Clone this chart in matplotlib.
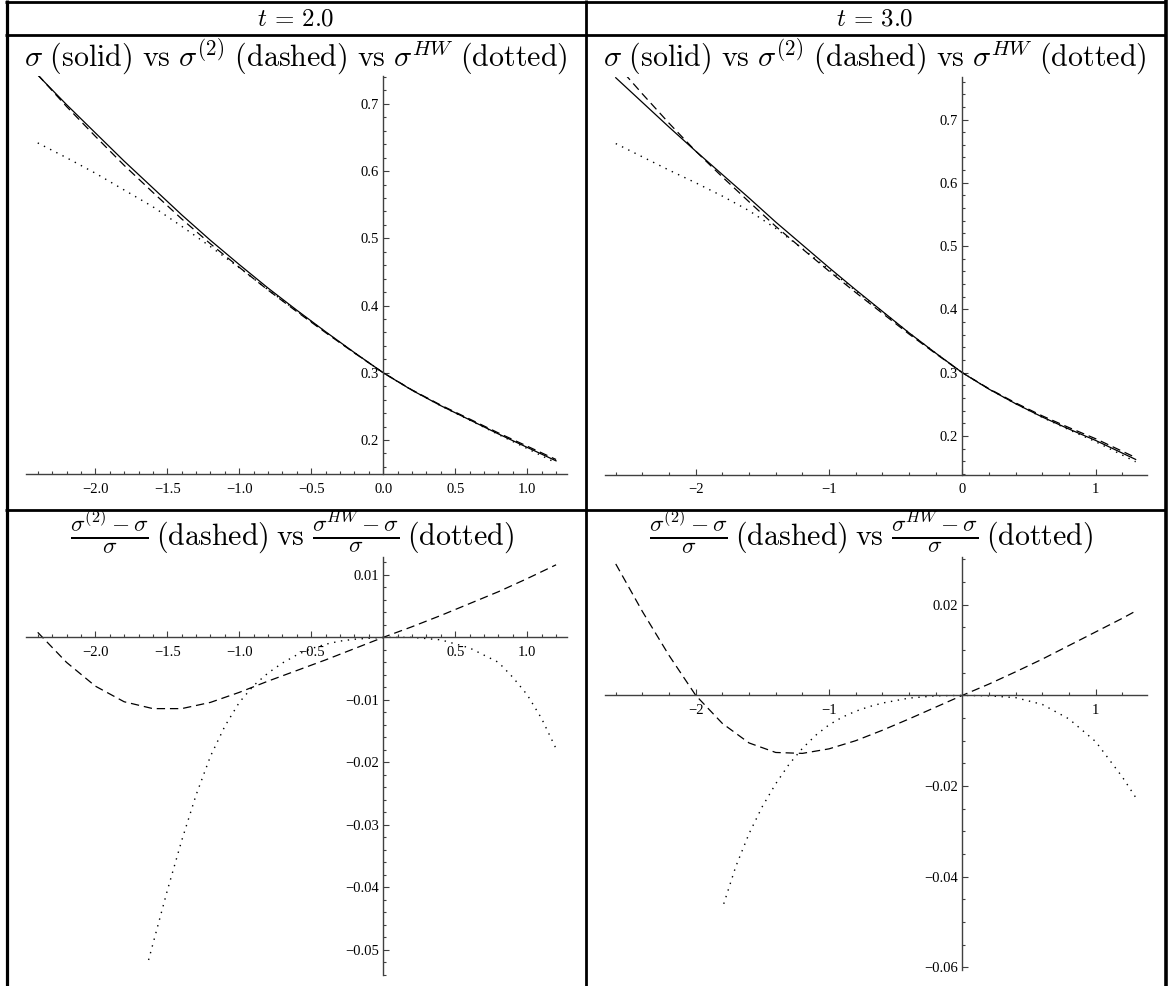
"""
Recreates the 2x2 Mathematica-style grid comparing sigma, sigma^(2) and sigma^HW
for t = 2.0 and t = 3.0 (values read off the reference picture).
"""
import matplotlib
matplotlib.use("Agg")
import matplotlib.pyplot as plt
from matplotlib.lines import Line2D
from matplotlib.offsetbox import AnnotationBbox, HPacker, TextArea
from matplotlib.ticker import FixedLocator, MultipleLocator, NullFormatter

plt.rcParams["mathtext.fontset"] = "cm"
plt.rcParams["lines.scale_dashes"] = False

W, H = 1168, 986

# ---------------- data, t = 2.0 ----------------
X_T2 = [-2.4, -2.2, -2.0, -1.8, -1.6, -1.4, -1.2, -1.0, -0.8, -0.6,
        -0.4, -0.2, 0.0, 0.2, 0.4, 0.6, 0.8, 1.0, 1.2]
SIGMA_T2 = [0.743, 0.699, 0.657, 0.615, 0.575, 0.535, 0.497, 0.461, 0.426, 0.393,
            0.361, 0.330, 0.300, 0.274, 0.251, 0.230, 0.209, 0.189, 0.169]
SIGMA2_T2 = [0.7436, 0.6962, 0.6519, 0.6087, 0.5684, 0.5289, 0.4918, 0.4569, 0.4230, 0.3909,
             0.3597, 0.3294, 0.300, 0.2745, 0.2519, 0.2312, 0.2105, 0.1908, 0.1710]
SIGMAHW_T2 = [0.642, 0.620, 0.597, 0.572, 0.547, 0.518, 0.4877, 0.4564, 0.4235, 0.3919,
              0.3606, 0.3299, 0.300, 0.274, 0.2509, 0.2296, 0.2082, 0.1873, 0.1660]
REL2_T2 = [0.0008, -0.0040, -0.0078, -0.0103, -0.0114, -0.0114, -0.0104, -0.0088, -0.0070, -0.0053,
           -0.0036, -0.0018, 0.0, 0.0017, 0.0035, 0.0054, 0.0073, 0.0094, 0.0116]
X_RELHW_T2 = [-1.63, -1.5, -1.4, -1.3, -1.2, -1.1, -1.0, -0.9, -0.8, -0.7, -0.6, -0.5,
              -0.4, -0.3, -0.2, 0.0, 0.2, 0.4, 0.6, 0.8, 0.9, 1.0, 1.1, 1.2]
RELHW_T2 = [-0.0516, -0.0405, -0.0325, -0.0252, -0.0190, -0.0142, -0.0104, -0.0077, -0.0057,
            -0.0041, -0.0028, -0.0018, -0.0011, -0.0006, -0.0003, 0.0, 0.0, -0.0004, -0.0017,
            -0.0040, -0.0064, -0.0092, -0.0130, -0.0178]

# ---------------- data, t = 3.0 ----------------
X_T3 = [-2.6, -2.4, -2.2, -2.0, -1.8, -1.6, -1.4, -1.2, -1.0, -0.8, -0.6,
        -0.4, -0.2, 0.0, 0.2, 0.4, 0.6, 0.8, 1.0, 1.2, 1.3]
SIGMA_T3 = [0.766, 0.727, 0.688, 0.650, 0.613, 0.576, 0.538, 0.502, 0.466, 0.431, 0.397,
            0.363, 0.331, 0.300, 0.274, 0.251, 0.230, 0.211, 0.193, 0.173, 0.163]
SIGMA2_T3 = [0.7882, 0.7404, 0.6941, 0.650, 0.6092, 0.5700, 0.5312, 0.4956, 0.4605, 0.4267, 0.3939,
             0.3611, 0.3301, 0.300, 0.2747, 0.2523, 0.2318, 0.2133, 0.1957, 0.1759, 0.1660]
SIGMAHW_T3 = [0.662, 0.641, 0.620, 0.600, 0.579, 0.556, 0.528, 0.4961, 0.463, 0.4295, 0.3963,
              0.3629, 0.3310, 0.300, 0.274, 0.2509, 0.2295, 0.2099, 0.1910, 0.1699, 0.1593]
REL2_T3 = [0.0290, 0.0185, 0.0088, 0.0, -0.0062, -0.0105, -0.0126, -0.0128, -0.0118, -0.0100, -0.0077,
           -0.0052, -0.0026, 0.0, 0.0025, 0.0052, 0.0080, 0.0110, 0.0140, 0.0170, 0.0186]
X_RELHW_T3 = [-1.79, -1.7, -1.6, -1.5, -1.4, -1.3, -1.2, -1.1, -1.0, -0.9, -0.8, -0.7,
              -0.6, -0.4, -0.2, 0.0, 0.2, 0.4, 0.6, 0.8, 1.0, 1.2, 1.3]
RELHW_T3 = [-0.0460, -0.0378, -0.0305, -0.0245, -0.0195, -0.0152, -0.0117, -0.0088, -0.0065,
            -0.0048, -0.0035, -0.0025, -0.0017, -0.0006, -0.0001, 0.0, -0.0001, -0.0005,
            -0.0020, -0.0052, -0.0102, -0.0180, -0.0225]

# ---------------- texts and ticks ----------------
HEADERS = [r"$t\,=\,2.0$", r"$t\,=\,3.0$"]
TOP_TITLE = (r"$\sigma\ \mathrm{(solid)\ vs}\ \sigma^{(2)}\ \mathrm{(dashed)\ vs}\ "
             r"\sigma^{HW}\ \mathrm{(dotted)}$")
# bottom title pieces: (text, is_fraction)
BOTTOM_PARTS = [(r"$\frac{\sigma^{(2)}-\sigma}{\sigma}$", True),
                (r"$\mathrm{(dashed)}$", False),
                (r"$\mathrm{vs}$", False),
                (r"$\frac{\sigma^{HW}-\sigma}{\sigma}$", True),
                (r"$\mathrm{(dotted)}$", False)]

X_TICKS_T2 = [-2.0, -1.5, -1.0, -0.5, 0.0, 0.5, 1.0]
X_LABELS_T2 = ["\u22122.0", "\u22121.5", "\u22121.0", "\u22120.5", "0.0", "0.5", "1.0"]
X_TICKS_T3 = [-2, -1, 0, 1]
X_LABELS_T3 = ["\u22122", "\u22121", "0", "1"]
Y_TICKS_TOP = [0.2, 0.3, 0.4, 0.5, 0.6, 0.7]
Y_LABELS_TOP = ["0.2", "0.3", "0.4", "0.5", "0.6", "0.7"]
X_TICKS_REL_T2 = [-2.0, -1.5, -1.0, -0.5, 0.5, 1.0]
X_LABELS_REL_T2 = ["\u22122.0", "\u22121.5", "\u22121.0", "\u22120.5", "0.5", "1.0"]
Y_TICKS_REL_T2 = [0.01, -0.01, -0.02, -0.03, -0.04, -0.05]
Y_LABELS_REL_T2 = ["0.01", "\u22120.01", "\u22120.02", "\u22120.03", "\u22120.04", "\u22120.05"]
X_TICKS_REL_T3 = [-2, -1, 1]
X_LABELS_REL_T3 = ["\u22122", "\u22121", "1"]
Y_TICKS_REL_T3 = [0.02, -0.02, -0.04, -0.06]
Y_LABELS_REL_T3 = ["0.02", "\u22120.02", "\u22120.04", "\u22120.06"]

TICK_FONT = dict(family="Liberation Serif", size=10.5)
AX_COLOR = "0.25"
TITLE_SIZE = 21.6
FRAC_SIZE = 24


def px_axes(fig, left, right, top, bottom):
    return fig.add_axes([left / W, 1 - bottom / H, (right - left) / W, (bottom - top) / H])


def style(ax, xlim, ylim, xt, xl, xminor, yt, yl, yminor, x_axis_at_zero):
    ax.set_xlim(*xlim)
    ax.set_ylim(*ylim)
    ax.patch.set_visible(False)
    for s in ("top", "right"):
        ax.spines[s].set_visible(False)
    ax.spines["left"].set_position(("data", 0))
    if x_axis_at_zero:
        ax.spines["bottom"].set_position(("data", 0))
    for s in ("left", "bottom"):
        ax.spines[s].set_color(AX_COLOR)
        ax.spines[s].set_linewidth(1.0)
    ax.xaxis.set_major_locator(FixedLocator(xt))
    ax.set_xticklabels(xl, fontdict=TICK_FONT)
    ax.yaxis.set_major_locator(FixedLocator(yt))
    ax.set_yticklabels(yl, fontdict=TICK_FONT)
    ax.xaxis.set_minor_locator(MultipleLocator(xminor))
    ax.yaxis.set_minor_locator(MultipleLocator(yminor))
    ax.xaxis.set_minor_formatter(NullFormatter())
    ax.yaxis.set_minor_formatter(NullFormatter())
    ax.tick_params(which="both", direction="in", color=AX_COLOR, width=0.8)
    ax.tick_params(which="major", length=4.3)
    ax.tick_params(which="minor", length=2.4)
    ax.tick_params(axis="x", pad=6)
    ax.tick_params(axis="y", pad=3)


def draw_sigma(ax, x, s, s2, shw):
    ax.plot(x, s, color="black", lw=0.9)
    ax.plot(x, s2, color="black", lw=0.9, linestyle=(0, (6, 3.5)))
    ax.plot(x, shw, color="black", lw=1.0, linestyle=(0, (1, 4)))


def draw_rel(ax, x, r2, xhw, rhw):
    ax.plot(x, r2, color="black", lw=0.9, linestyle=(0, (6, 3.5)))
    ax.plot(xhw, rhw, color="black", lw=1.0, linestyle=(0, (1, 4)))


fig = plt.figure(figsize=(W / 100, H / 100), dpi=100)

# top-left: t = 2.0
ax = px_axes(fig, 26.2, 567, 75.7, 474.3)
draw_sigma(ax, X_T2, SIGMA_T2, SIGMA2_T2, SIGMAHW_T2)
style(ax, (-2.48, 1.276), (0.149, 0.742), X_TICKS_T2, X_LABELS_T2, 0.1,
      Y_TICKS_TOP, Y_LABELS_TOP, 0.02, False)

# top-right: t = 3.0
ax = px_axes(fig, 604.7, 1146.7, 77.3, 475)
draw_sigma(ax, X_T3, SIGMA_T3, SIGMA2_T3, SIGMAHW_T3)
style(ax, (-2.683, 1.383), (0.1384, 0.7667), X_TICKS_T3, X_LABELS_T3, 0.2,
      Y_TICKS_TOP, Y_LABELS_TOP, 0.02, False)

# bottom-left: relative errors, t = 2.0
ax = px_axes(fig, 26.2, 567, 557.3, 975)
draw_rel(ax, X_T2, REL2_T2, X_RELHW_T2, RELHW_T2)
style(ax, (-2.48, 1.276), (-0.054, 0.0128), X_TICKS_REL_T2, X_LABELS_REL_T2, 0.1,
      Y_TICKS_REL_T2, Y_LABELS_REL_T2, 0.002, True)

# bottom-right: relative errors, t = 3.0
ax = px_axes(fig, 604.7, 1146.7, 556.7, 970)
draw_rel(ax, X_T3, REL2_T3, X_RELHW_T3, RELHW_T3)
style(ax, (-2.683, 1.383), (-0.0606, 0.0306), X_TICKS_REL_T3, X_LABELS_REL_T3, 0.2,
      Y_TICKS_REL_T3, Y_LABELS_REL_T3, 0.005, True)


# grid frame
def hline(y, lw=2.0):
    fig.add_artist(Line2D([5 / W, 1166 / W], [1 - y / H, 1 - y / H], color="black",
                          lw=lw, transform=fig.transFigure, solid_capstyle="butt"))


def vline(x, lw=2.0):
    fig.add_artist(Line2D([x / W, x / W], [0, 1], color="black",
                          lw=lw, transform=fig.transFigure, solid_capstyle="butt"))


hline(1.5)
hline(34.7)
hline(509.5)
vline(6.5, 2.3)
vline(585.5)
vline(1165.5, 2.6)

for cx, head in zip((296, 875), HEADERS):
    fig.text(cx / W, 1 - 18 / H, head, ha="center", va="center", fontsize=18)
    fig.text(cx / W, 1 - 57 / H, TOP_TITLE, ha="center", va="center", fontsize=TITLE_SIZE)
    parts = [TextArea(txt, textprops=dict(fontsize=FRAC_SIZE if frac else TITLE_SIZE))
             for txt, frac in BOTTOM_PARTS]
    row = HPacker(children=parts, align="baseline", pad=0, sep=5.5)
    fig.add_artist(AnnotationBbox(row, ((cx - 4) / W, 1 - 532 / H), xycoords="figure fraction",
                                  frameon=False, box_alignment=(0.5, 0.5), pad=0))

fig.savefig("out.png", dpi=100)
